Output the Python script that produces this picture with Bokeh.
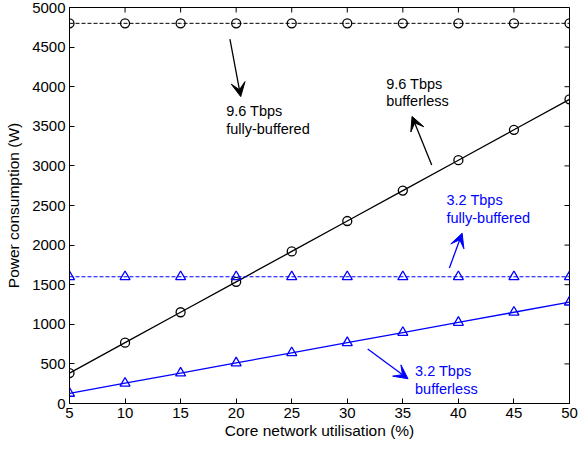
import math
from bokeh.plotting import figure
from bokeh.models import Range1d, Arrow, VeeHead, FixedTicker
from bokeh.core.properties import value
from bokeh.embed import file_html
from bokeh.resources import INLINE

utilisation = [5, 10, 15, 20, 25, 30, 35, 40, 45, 50]
p96_buffered = [4800, 4800, 4800, 4800, 4800, 4800, 4800, 4800, 4800, 4800]
p96_bufferless = [384, 768, 1152, 1536, 1920, 2304, 2688, 3072, 3456, 3840]
p32_buffered = [1600, 1600, 1600, 1600, 1600, 1600, 1600, 1600, 1600, 1600]
p32_bufferless = [128, 256, 384, 512, 640, 768, 896, 1024, 1152, 1280]
x_ticks = [5, 10, 15, 20, 25, 30, 35, 40, 45, 50]
y_ticks = [0, 500, 1000, 1500, 2000, 2500, 3000, 3500, 4000, 4500, 5000]

FONT = "Liberation Sans"
BLUE = "#0000FF"

xr = Range1d(x_ticks[0], x_ticks[-1])
yr = Range1d(y_ticks[0], y_ticks[-1])

p = figure(width=579, height=443, output_backend="svg", toolbar_location=None,
           x_range=xr, y_range=yr,
           min_border_top=7, min_border_right=10, min_border_left=69, min_border_bottom=40)
p.xgrid.visible = False
p.ygrid.visible = False
p.outline_line_color = "black"
p.outline_line_width = 1

p.xaxis.ticker = FixedTicker(ticks=x_ticks)
p.yaxis.ticker = FixedTicker(ticks=y_ticks)
for ax in list(p.xaxis) + list(p.yaxis):
    ax.major_tick_in = 5
    ax.major_tick_out = 0
    ax.minor_tick_line_color = None
    ax.axis_line_color = "black"
    ax.major_tick_line_color = "black"
    ax.major_label_text_font = FONT
    ax.major_label_text_font_size = "15px"
    ax.major_label_text_color = "black"
    ax.axis_label_text_font = FONT
    ax.axis_label_text_font_size = "15.5px"
    ax.axis_label_text_font_style = "normal"
    ax.axis_label_text_color = "black"
    ax.major_label_standoff = 4

p.xaxis.axis_label = "Core network utilisation (%)"
p.xaxis.axis_label_standoff = 1
p.yaxis.axis_label = "Power consumption (W)"
p.yaxis.axis_label_standoff = 7

# tick marks on the top and right edges of the box (MATLAB-style)
p.ray(x=x_ticks, y=[yr.end] * len(x_ticks), length=5, length_units="screen",
      angle=-math.pi / 2, line_color="black", line_width=1)
p.ray(x=[xr.end] * len(y_ticks), y=y_ticks, length=5, length_units="screen",
      angle=math.pi, line_color="black", line_width=1)

# series
p.line(utilisation, p96_buffered, line_color="black", line_dash="4 2", line_width=1)
p.scatter(utilisation, p96_buffered, marker="circle", size=9, fill_color=None, line_color="black", line_width=1.3)
p.line(utilisation, p96_bufferless, line_color="black", line_width=1.3)
p.scatter(utilisation, p96_bufferless, marker="circle", size=9, fill_color=None, line_color="black", line_width=1.3)
p.line(utilisation, p32_buffered, line_color=BLUE, line_dash="4 2", line_width=1.1)
p.scatter(utilisation, p32_buffered, marker="triangle", size=10, fill_color=None, line_color=BLUE, line_width=1.3)
p.line(utilisation, p32_bufferless, line_color=BLUE, line_width=1.3)
p.scatter(utilisation, p32_bufferless, marker="triangle", size=10, fill_color=None, line_color=BLUE, line_width=1.3)

# annotations
def arrow(x0, y0, x1, y1, color):
    p.add_layout(Arrow(end=VeeHead(size=14, fill_color=color, line_color=color),
                       x_start=x0, y_start=y0, x_end=x1, y_end=y1,
                       line_color=color, line_width=1.3))

arrow(19.44, 4600, 20.41, 3875, "black")
arrow(37.6, 3012, 35.83, 3625, "black")
arrow(39.19, 1712, 40.34, 2150, BLUE)
arrow(31.84, 687, 35.47, 312, BLUE)

def label(x, y, txt, color):
    p.text(x=[x], y=[y], text=[txt], text_font=value(FONT), text_font_size="14.5px",
           text_color=color, text_align="left", text_baseline="top", text_line_height=1.1)

label(19.1, 3790, "9.6 Tbps\nfully-buffered", "black")
label(33.5, 4140, "9.6 Tbps\nbufferless", "black")
label(38.93, 2670, "3.2 Tbps\nfully-buffered", BLUE)
label(36.1, 510, "3.2 Tbps\nbufferless", BLUE)

open("out.html", "w").write(file_html(p, INLINE))
